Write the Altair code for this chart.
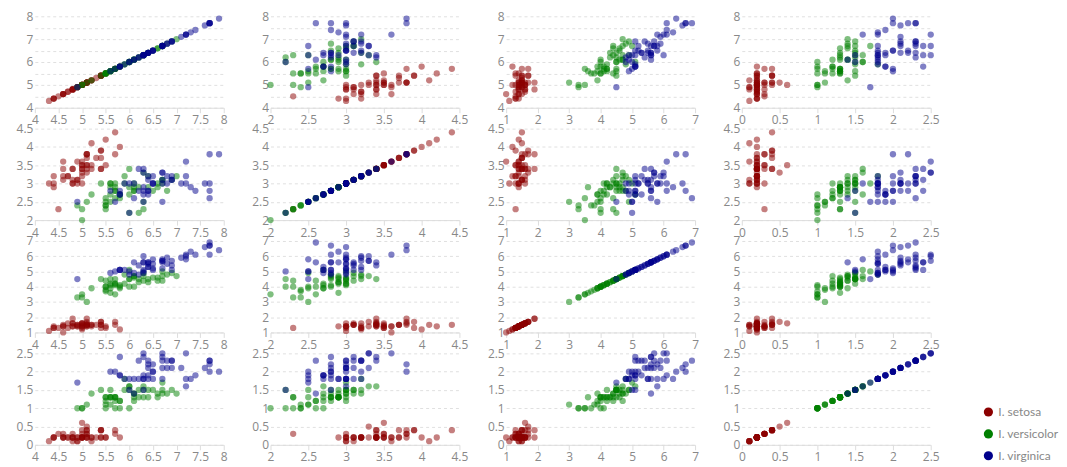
import altair as alt
import pandas as pd

sepal_length = [
    5.1,4.9,4.7,4.6,5.0,5.4,4.6,5.0,4.4,4.9,5.4,4.8,4.8,4.3,5.8,5.7,5.4,5.1,5.7,5.1,5.4,5.1,4.6,5.1,4.8,5.0,5.0,5.2,5.2,4.7,4.8,5.4,5.2,5.5,4.9,5.0,5.5,4.9,4.4,5.1,5.0,4.5,4.4,5.0,5.1,4.8,5.1,4.6,5.3,5.0,
    7.0,6.4,6.9,5.5,6.5,5.7,6.3,4.9,6.6,5.2,5.0,5.9,6.0,6.1,5.6,6.7,5.6,5.8,6.2,5.6,5.9,6.1,6.3,6.1,6.4,6.6,6.8,6.7,6.0,5.7,5.5,5.5,5.8,6.0,5.4,6.0,6.7,6.3,5.6,5.5,5.5,6.1,5.8,5.0,5.6,5.7,5.7,6.2,5.1,5.7,
    6.3,5.8,7.1,6.3,6.5,7.6,4.9,7.3,6.7,7.2,6.5,6.4,6.8,5.7,5.8,6.4,6.5,7.7,7.7,6.0,6.9,5.6,7.7,6.3,6.7,7.2,6.2,6.1,6.4,7.2,7.4,7.9,6.4,6.3,6.1,7.7,6.3,6.4,6.0,6.9,6.7,6.9,5.8,6.8,6.7,6.7,6.3,6.5,6.2,5.9]
sepal_width = [
    3.5,3.0,3.2,3.1,3.6,3.9,3.4,3.4,2.9,3.1,3.7,3.4,3.0,3.0,4.0,4.4,3.9,3.5,3.8,3.8,3.4,3.7,3.6,3.3,3.4,3.0,3.4,3.5,3.4,3.2,3.1,3.4,4.1,4.2,3.1,3.2,3.5,3.6,3.0,3.4,3.5,2.3,3.2,3.5,3.8,3.0,3.8,3.2,3.7,3.3,
    3.2,3.2,3.1,2.3,2.8,2.8,3.3,2.4,2.9,2.7,2.0,3.0,2.2,2.9,2.9,3.1,3.0,2.7,2.2,2.5,3.2,2.8,2.5,2.8,2.9,3.0,2.8,3.0,2.9,2.6,2.4,2.4,2.7,2.7,3.0,3.4,3.1,2.3,3.0,2.5,2.6,3.0,2.6,2.3,2.7,3.0,2.9,2.9,2.5,2.8,
    3.3,2.7,3.0,2.9,3.0,3.0,2.5,2.9,2.5,3.6,3.2,2.7,3.0,2.5,2.8,3.2,3.0,3.8,2.6,2.2,3.2,2.8,2.8,2.7,3.3,3.2,2.8,3.0,2.8,3.0,2.8,3.8,2.8,2.8,2.6,3.0,3.4,3.1,3.0,3.1,3.1,3.1,2.7,3.2,3.3,3.0,2.5,3.0,3.4,3.0]
petal_length = [
    1.4,1.4,1.3,1.5,1.4,1.7,1.4,1.5,1.4,1.5,1.5,1.6,1.4,1.1,1.2,1.5,1.3,1.4,1.7,1.5,1.7,1.5,1.0,1.7,1.9,1.6,1.6,1.5,1.4,1.6,1.6,1.5,1.5,1.4,1.5,1.2,1.3,1.4,1.3,1.5,1.3,1.3,1.3,1.6,1.9,1.4,1.6,1.4,1.5,1.4,
    4.7,4.5,4.9,4.0,4.6,4.5,4.7,3.3,4.6,3.9,3.5,4.2,4.0,4.7,3.6,4.4,4.5,4.1,4.5,3.9,4.8,4.0,4.9,4.7,4.3,4.4,4.8,5.0,4.5,3.5,3.8,3.7,3.9,5.1,4.5,4.5,4.7,4.4,4.1,4.0,4.4,4.6,4.0,3.3,4.2,4.2,4.2,4.3,3.0,4.1,
    6.0,5.1,5.9,5.6,5.8,6.6,4.5,6.3,5.8,6.1,5.1,5.3,5.5,5.0,5.1,5.3,5.5,6.7,6.9,5.0,5.7,4.9,6.7,4.9,5.7,6.0,4.8,4.9,5.6,5.8,6.1,6.4,5.6,5.1,5.6,6.1,5.6,5.5,4.8,5.4,5.6,5.1,5.1,5.9,5.7,5.2,5.0,5.2,5.4,5.1]
petal_width = [
    0.2,0.2,0.2,0.2,0.2,0.4,0.3,0.2,0.2,0.1,0.2,0.2,0.1,0.1,0.2,0.4,0.4,0.3,0.3,0.3,0.2,0.4,0.2,0.5,0.2,0.2,0.4,0.2,0.2,0.2,0.2,0.4,0.1,0.2,0.2,0.2,0.2,0.1,0.2,0.2,0.3,0.3,0.2,0.6,0.4,0.3,0.2,0.2,0.2,0.2,
    1.4,1.5,1.5,1.3,1.5,1.3,1.6,1.0,1.3,1.4,1.0,1.5,1.0,1.4,1.3,1.4,1.5,1.0,1.5,1.1,1.8,1.3,1.5,1.2,1.3,1.4,1.4,1.7,1.5,1.0,1.1,1.0,1.2,1.6,1.5,1.6,1.5,1.3,1.3,1.3,1.2,1.4,1.2,1.0,1.3,1.2,1.3,1.3,1.1,1.3,
    2.5,1.9,2.1,1.8,2.2,2.1,1.7,1.8,1.8,2.5,2.0,1.9,2.1,2.0,2.4,2.3,1.8,2.2,2.3,1.5,2.3,2.0,2.0,1.8,2.1,1.8,1.8,1.8,2.1,1.6,1.9,2.0,2.2,1.5,1.4,2.3,2.4,1.8,1.8,2.1,2.4,2.3,1.9,2.3,2.5,2.3,1.9,2.0,2.3,1.8]
species_names = ["I. setosa", "I. versicolor", "I. virginica"]
species_colors = ["#8b0000", "#008000", "#00008b"]
species = [s for s in species_names for _ in range(50)]

fields = ["sepal_length", "sepal_width", "petal_length", "petal_width"]
domains = {"sepal_length": [4, 8], "sepal_width": [2, 4.5],
           "petal_length": [1, 7], "petal_width": [0, 2.5]}
ticks = {"sepal_length": [4, 4.5, 5, 5.5, 6, 6.5, 7, 7.5, 8],
         "sepal_width": [2, 2.5, 3, 3.5, 4, 4.5],
         "petal_length": [1, 2, 3, 4, 5, 6, 7],
         "petal_width": [0, 0.5, 1, 1.5, 2, 2.5]}

df = pd.DataFrame({"sepal_length": sepal_length, "sepal_width": sepal_width,
                   "petal_length": petal_length, "petal_width": petal_width,
                   "species": species})

color = alt.Color("species:N",
                  scale=alt.Scale(domain=species_names, range=species_colors),
                  legend=alt.Legend(title=None, orient="none", legendX=953, legendY=392,
                                    symbolType="circle", symbolSize=85, symbolOpacity=1,
                                    labelColor="#888", labelFontSize=12, rowPadding=10,
                                    labelFont="Lato", labelOffset=4, padding=0))

cells = []
for fy in fields:
    for fx in fields:
        c = alt.Chart(df).mark_circle(size=40, opacity=0.5).encode(
            x=alt.X(f"{fx}:Q", title=None,
                    scale=alt.Scale(domain=domains[fx], nice=False, zero=False),
                    axis=alt.Axis(values=ticks[fx], format="~g", grid=False, labelFlush=False,
                                  domainColor="#ddd", tickColor="#ddd", tickSize=5,
                                  labelColor="#888", labelFontSize=12, labelFont="Open Sans")),
            y=alt.Y(f"{fy}:Q", title=None,
                    scale=alt.Scale(domain=domains[fy], nice=False, zero=False),
                    axis=alt.Axis(values=ticks[fy], format="~g", grid=True, gridDash=[3, 3],
                                  gridColor="#e0e0e0", domain=False, ticks=False, labelFlush=False,
                                  labelColor="#888", labelFontSize=12, labelFont="Open Sans")),
            color=color,
        ).properties(width=190, height=92)
        cells.append(c)

chart = alt.concat(*cells, columns=4, spacing={"row": 21, "column": 47},
                   bounds="flush").properties(
    padding={"left": 8, "top": 1, "right": 0, "bottom": 5}
).configure_view(stroke=None)

chart.save("out.html", embed_options={"renderer": "svg", "actions": False})
